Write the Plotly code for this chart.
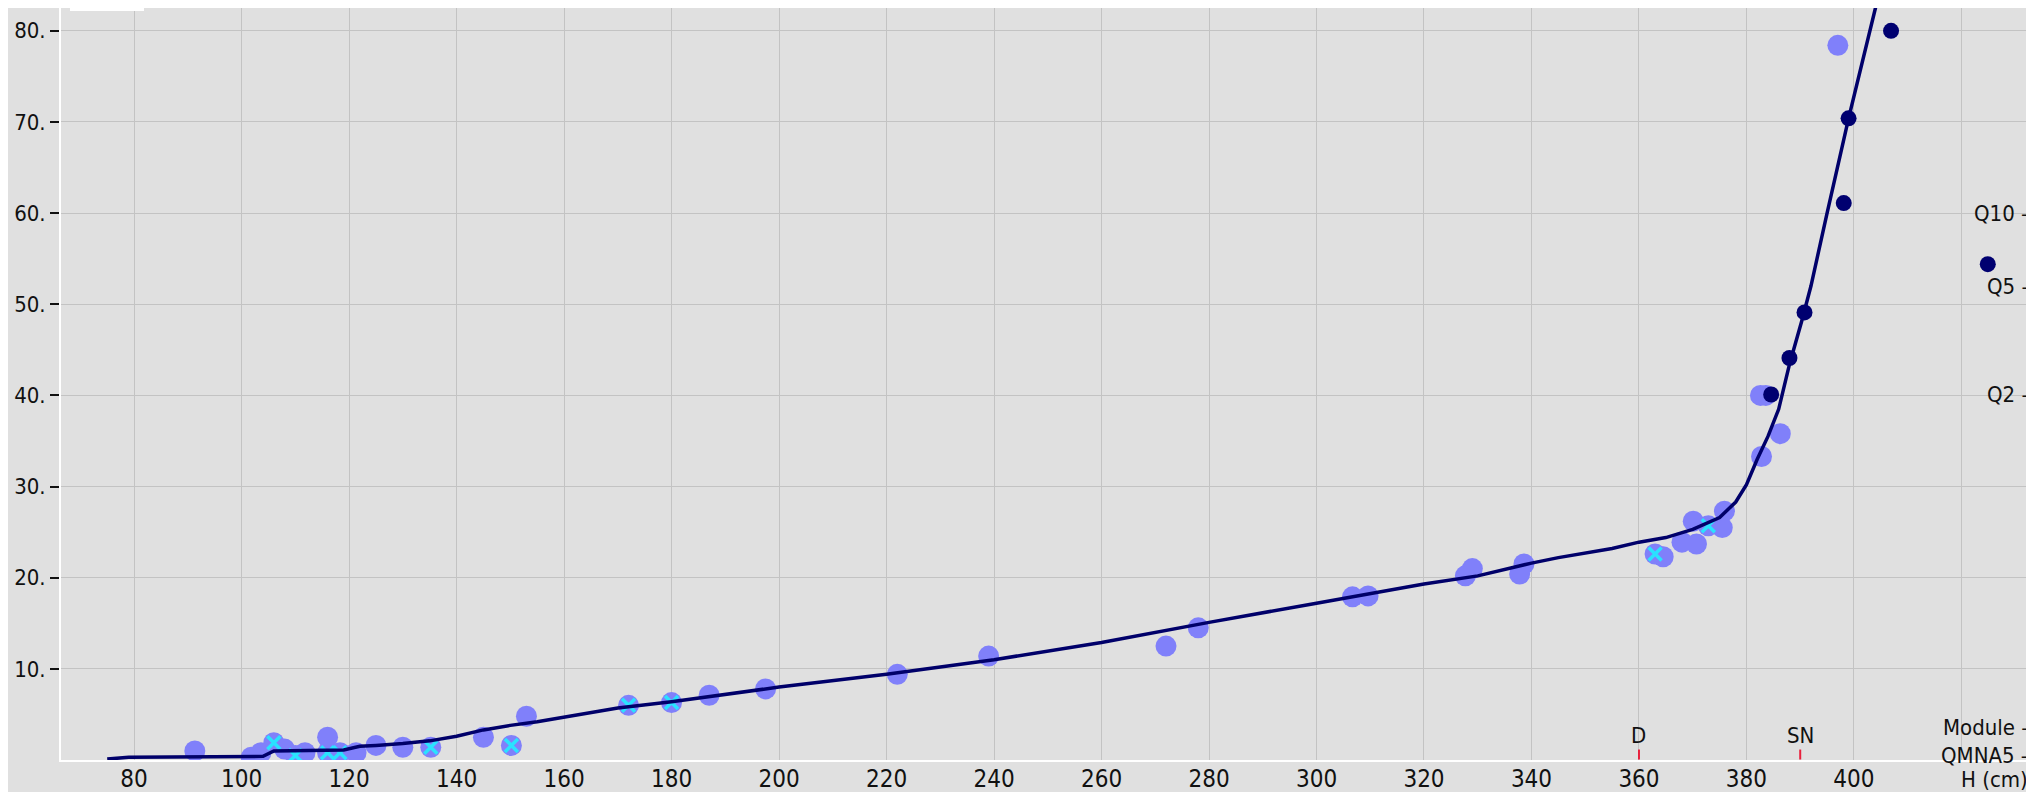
import plotly.graph_objects as go

# ---- data ----
curve_h = [75, 79, 104, 106, 119, 122, 125, 130, 135, 140, 145, 150, 155, 160, 170, 180, 190, 200,
           220, 240, 260, 280, 300, 320, 330, 340, 345, 350, 355, 360, 365, 370, 375, 378,
           380, 382, 384, 386, 388, 390.3, 392, 395, 399, 404, 406]
curve_q = [0.1, 0.3, 0.4, 1.0, 1.1, 1.5, 1.6, 1.8, 2.1, 2.6, 3.3, 3.8, 4.2, 4.7, 5.7, 6.4, 7.2, 8.0,
           9.4, 11.0, 12.9, 15.1, 17.2, 19.3, 20.2, 21.6, 22.2, 22.7, 23.2, 23.9, 24.4, 25.3, 26.6, 28.3,
           30.2, 33.0, 35.5, 38.5, 43.4, 48.2, 52.0, 60.0, 70.4, 82.5, 88.0]

gaugings_h = [91.3, 101.8, 103.6, 106.0, 108.0, 110.0, 111.8, 116.0, 116.0, 118.3, 121.3, 125.0,
              130.0, 135.2, 145.0, 150.2, 153.0, 172.0, 180.0, 187.0, 197.5, 222.0, 239.0, 272.0,
              278.0, 306.7, 309.6, 327.7, 329.0, 337.8, 338.6, 363.0, 364.5, 368.0, 370.1, 370.7,
              372.9, 375.5, 375.9, 382.8, 386.3, 382.6, 383.6, 397.0]
gaugings_q = [1.0, 0.3, 0.8, 1.9, 1.2, 0.5, 0.8, 2.5, 0.8, 0.8, 0.8, 1.6,
              1.4, 1.4, 2.5, 1.6, 4.8, 6.0, 6.3, 7.1, 7.8, 9.4, 11.4, 12.5,
              14.5, 17.9, 18.0, 20.2, 21.0, 20.4, 21.5, 22.6, 22.3, 23.9, 26.2, 23.7,
              25.7, 25.5, 27.3, 33.3, 35.8, 40.0, 40.0, 78.4]

crossed_h = [106.0, 110.0, 116.0, 118.3, 135.2, 150.2, 172.0, 180.0, 363.0, 372.9]
crossed_q = [1.9, 0.5, 0.8, 0.8, 1.4, 1.6, 6.0, 6.3, 22.6, 25.7]

flood_h = [384.6, 388.0, 390.8, 398.1, 399.0, 406.9, 424.9]
flood_q = [40.1, 44.1, 49.1, 61.1, 70.4, 80.0, 54.4]

x_ticks = [80, 100, 120, 140, 160, 180, 200, 220, 240, 260, 280, 300, 320, 340, 360, 380, 400, 420]
x_labels = ["80", "100", "120", "140", "160", "180", "200", "220", "240", "260", "280", "300",
            "320", "340", "360", "380", "400", ""]
y_ticks = [10, 20, 30, 40, 50, 60, 70, 80]
y_labels = ["10.", "20.", "30.", "40.", "50.", "60.", "70.", "80."]

ref_levels = [60.0, 52.0, 40.1, 3.6, 0.5]
ref_names = ["Q10", "Q5", "Q2", "Module", "QMNA5"]

mark_h = [360, 390]
mark_names = ["D", "SN"]

FONT = "Liberation Sans Narrow, Arial Narrow, DejaVu Sans Condensed, Liberation Sans, sans-serif"
BG = "#e0e0e0"
GRID = "#c3c3c3"
TXT = "#111111"

W, H = 2034, 792
ML, MR, MT, MB = 53, 8, 0, 40
XR = [66.4, 433.5]
YR = [0, 82.5]
plot_w = W - ML - MR
plot_h = H - MT - MB

fig = go.Figure()
fig.add_trace(go.Scatter(x=gaugings_h, y=gaugings_q, mode="markers",
                         marker=dict(size=21, color="#8080fa", line=dict(width=0)),
                         showlegend=False, hoverinfo="skip"))
fig.add_trace(go.Scatter(x=crossed_h, y=crossed_q, mode="markers",
                         marker=dict(size=13, symbol="x-thin", color="#2ae2ff",
                                     line=dict(width=3.5, color="#2ae2ff")),
                         showlegend=False, hoverinfo="skip"))
fig.add_trace(go.Scatter(x=curve_h, y=curve_q, mode="lines",
                         line=dict(color="#00006a", width=3.5),
                         showlegend=False, hoverinfo="skip"))
fig.add_trace(go.Scatter(x=flood_h, y=flood_q, mode="markers",
                         marker=dict(size=16, color="#000070", line=dict(width=0)),
                         showlegend=False, hoverinfo="skip"))

shapes = []
for h in mark_h:
    shapes.append(dict(type="line", xref="x", yref="y", x0=h, x1=h, y0=0.05, y1=1.15,
                       line=dict(color="#e8203c", width=2)))
px1 = 1 + 1.0 / plot_w
px2 = 1 + 9.0 / plot_w
shapes.append(dict(type="rect", xref="paper", yref="paper", x0=px1, x1=px2,
                   y0=20.8 / YR[1], y1=1.0, fillcolor="#ff80f0", line=dict(width=0), layer="above"))
shapes.append(dict(type="rect", xref="paper", yref="paper", x0=px1, x1=px2,
                   y0=-0.001, y1=0.7 / YR[1], fillcolor="#ff80f0", line=dict(width=0), layer="above"))
shapes.append(dict(type="rect", xref="paper", yref="paper", x0=(62 - ML) / plot_w, x1=(136 - ML) / plot_w,
                   y0=1 - 3.0 / plot_h, y1=1.0, fillcolor="white", line=dict(width=0), layer="above"))

annotations = []
for lvl, name in zip(ref_levels, ref_names):
    annotations.append(dict(x=1, xref="paper", y=lvl, yref="y", xanchor="right", yanchor="middle",
                            text=name + " –", showarrow=False, xshift=-1,
                            font=dict(family=FONT, size=22, color=TXT)))
for h, name in zip(mark_h, mark_names):
    annotations.append(dict(x=h, xref="x", y=2.7, yref="y", xanchor="center", yanchor="middle",
                            text=name, showarrow=False,
                            font=dict(family=FONT, size=22, color=TXT)))
annotations.append(dict(x=1, xref="paper", y=-(771 - (H - MB)) / plot_h, yref="paper",
                        xanchor="right", yanchor="middle", text="H (cm)", showarrow=False, xshift=-4,
                        font=dict(family=FONT, size=22, color=TXT)))

fig.update_layout(
    width=W, height=H,
    margin=dict(l=ML, r=MR, t=MT, b=MB, pad=0),
    paper_bgcolor=BG, plot_bgcolor=BG,
    shapes=shapes, annotations=annotations,
    showlegend=False,
    xaxis=dict(range=XR, tickmode="array", tickvals=x_ticks, ticktext=x_labels,
               showgrid=True, gridcolor=GRID, gridwidth=1.3, zeroline=False,
               showline=True, linecolor="white", linewidth=2, ticks="",
               ticklabelstandoff=-4,
               tickfont=dict(family=FONT, size=24, color=TXT)),
    yaxis=dict(range=YR, tickmode="array", tickvals=y_ticks, ticktext=y_labels,
               showgrid=True, gridcolor=GRID, gridwidth=1.3, zeroline=False,
               showline=True, linecolor="white", linewidth=2, mirror=True,
               ticks="outside", ticklen=9, tickwidth=2, tickcolor=TXT,
               tickfont=dict(family=FONT, size=22, color=TXT)),
)

fig.write_html("out.html")
